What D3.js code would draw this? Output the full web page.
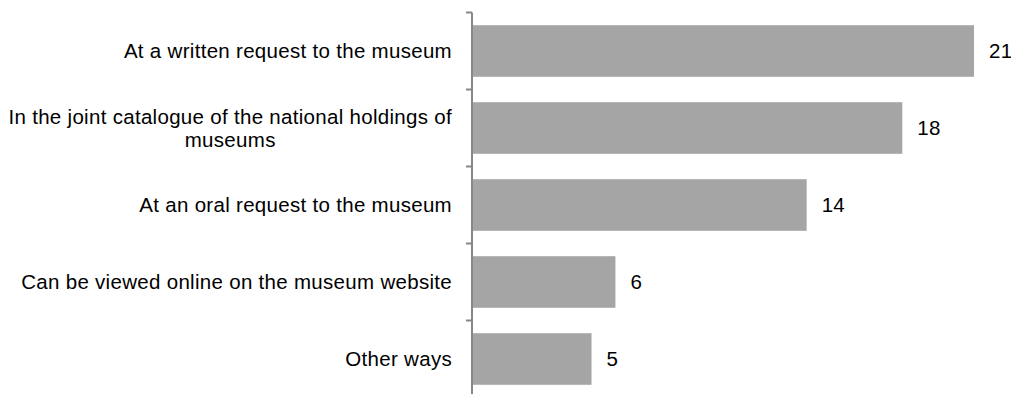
<!DOCTYPE html>
<html>
<head>
<meta charset="utf-8">
<script src="https://cdn.jsdelivr.net/npm/d3@7"></script>
<style>
  html, body { margin: 0; padding: 0; background: #fff; }
  svg { display: block; }
  text { font-family: "Liberation Sans", Arial, sans-serif; font-size: 20.5px; fill: #000; letter-spacing: 0.3px; }
</style>
</head>
<body>
<svg id="chart" width="1011" height="394"></svg>
<script>
// Ways of accessing the museum's holdings (number of museums)
const categories = [
  ["At a written request to the museum"],
  ["In the joint catalogue of the national holdings of", "museums"],
  ["At an oral request to the museum"],
  ["Can be viewed online on the museum website"],
  ["Other ways"]
];
const values = [21, 18, 14, 6, 5];

const width = 1011, height = 394;
const axisX = 472;
const svg = d3.select("#chart");

const idx = d3.range(values.length);

const x = d3.scaleLinear().domain([0, 21]).range([axisX, 974]);
const y = d3.scaleBand().domain(idx).range([12.5, 397.5])
  .paddingInner(0.33).paddingOuter(0.165);

// bars
svg.append("g").selectAll("rect")
  .data(idx).join("rect")
  .attr("x", x(0))
  .attr("y", i => y(i))
  .attr("width", i => x(values[i]) - x(0))
  .attr("height", y.bandwidth())
  .attr("fill", "#a5a5a5");

// category axis: vertical line with ticks at band boundaries
const axis = svg.append("g").attr("stroke", "#878787").attr("stroke-width", 2);
axis.append("line")
  .attr("x1", axisX).attr("x2", axisX)
  .attr("y1", y.range()[0]).attr("y2", y.range()[1]);
const step = y.step();
const bounds = idx.map(i => y(i) - step * y.paddingInner() / 2).concat([y.range()[1]]);
axis.selectAll("line.tick")
  .data(bounds).join("line").attr("class", "tick")
  .attr("x1", axisX - 6).attr("x2", axisX)
  .attr("y1", d => d).attr("y2", d => d);

// category labels, right-aligned block with centered lines
const labelRight = 452;
const lineGap = 23;
const labels = svg.append("g");
idx.forEach(i => {
  const lines = categories[i];
  const cy = y(i) + y.bandwidth() / 2;
  const g = labels.append("g");
  const texts = lines.map((ln, k) => g.append("text")
    .attr("text-anchor", "middle")
    .attr("y", cy + 7 + (k - (lines.length - 1) / 2) * lineGap)
    .text(ln));
  const maxW = d3.max(texts, t => t.node().getComputedTextLength());
  texts.forEach(t => t.attr("x", labelRight - maxW / 2));
});

// value labels
svg.append("g").selectAll("text")
  .data(idx).join("text")
  .attr("x", i => x(values[i]) + 15)
  .attr("y", i => y(i) + y.bandwidth() / 2 + 7)
  .text(i => values[i]);
</script>
</body>
</html>
